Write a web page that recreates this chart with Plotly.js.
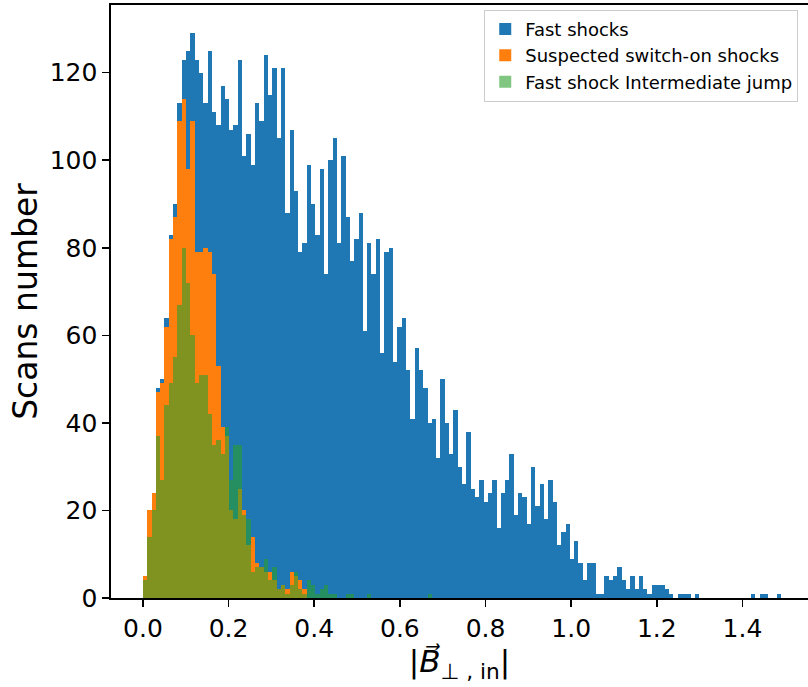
<!DOCTYPE html>
<html>
<head>
<meta charset="utf-8">
<script src="https://cdn.plot.ly/plotly-3.0.1.min.js"></script>
<style>html,body{margin:0;padding:0;background:#fff;}#chart{width:808px;height:687px;}</style>
</head>
<body>
<div id="chart"></div>
<script>
// Histogram bins (shared by all three series)
const BIN_START = 0.0;
const BIN_WIDTH = 0.01007;

// Counts per bin
const fastShocks = [
  5, 20, 24, 48, 50, 64, 83, 90, 113, 123,
  125, 129, 123, 120, 113, 125, 111, 108, 117, 114,
  107, 108, 123, 101, 106, 99, 113, 109, 124, 115,
  121, 105, 121, 88, 107, 93, 79, 81, 99, 90,
  83, 98, 74, 100, 105, 81, 101, 87, 77, 82,
  88, 61, 81, 74, 82, 56, 79, 80, 54, 62,
  64, 52, 41, 57, 52, 48, 40, 41, 32, 50,
  40, 33, 43, 30, 26, 38, 25, 23, 27, 22,
  24, 27, 16, 24, 27, 33, 19, 24, 23, 17,
  30, 21, 26, 18, 27, 22, 12, 15, 17, 9,
  13, 8, 4, 8, 8, 1, 1, 5, 4, 5,
  7, 4, 2, 5, 2, 5, 2, 1, 3, 3,
  3, 2, 1, 0, 1, 1, 1, 0, 1, 0,
  0, 0, 0, 0, 0, 0, 0, 0, 0, 0,
  0, 1, 0, 1, 1, 0, 0, 1
];
const switchOnShocks = [
  5, 20, 24, 47, 49, 62, 82, 87, 109, 114,
  98, 109, 79, 79, 80, 79, 74, 53, 39, 37,
  20, 18, 25, 20, 12, 14, 8, 7, 6, 6,
  4, 2, 3, 2, 6, 5, 4, 2
];
const intermediateJump = [
  4, 14, 20, 37, 27, 44, 49, 55, 67, 80,
  72, 60, 49, 51, 51, 42, 35, 36, 33, 39,
  27, 35, 35, 19, 18, 6, 7, 7, 9, 4,
  7, 2, 3, 1, 3, 6, 2, 1, 4, 3,
  1, 2, 3, 1, 1, 0, 0, 1, 1, 0,
  0, 0, 1, 0, 0, 0, 0, 0, 0, 0,
  0, 0, 0, 0, 0, 0, 1
];
const seriesNames = ["Fast shocks", "Suspected switch-on shocks", "Fast shock Intermediate jump"];
const xTickVals = [0.0, 0.2, 0.4, 0.6, 0.8, 1.0, 1.2, 1.4];
const yTickVals = [0, 20, 40, 60, 80, 100, 120];

function centers(n) {
  const c = [];
  for (let i = 0; i < n; i++) c.push(BIN_START + (i + 0.5) * BIN_WIDTH);
  return c;
}

const colors = ["#1f77b4", "#ff7f0e", "#2ca02c"];
const opac = [1, 1, 0.6];
const data = [fastShocks, switchOnShocks, intermediateJump].map((vals, k) => ({
  type: "bar",
  name: seriesNames[k],
  x: centers(vals.length),
  y: vals,
  width: BIN_WIDTH,
  opacity: opac[k],
  marker: {color: colors[k], line: {width: 0}},
  hoverinfo: "x+y"
}));

const font = "'DejaVu Sans', sans-serif";
const layout = {
  width: 808, height: 687,
  margin: {l: 111, r: 0, t: 5, b: 89, pad: 0},
  paper_bgcolor: "#fff", plot_bgcolor: "#fff",
  barmode: "overlay", bargap: 0,
  font: {family: font, color: "#000"},
  showlegend: true,
  legend: {
    x: 0.986, y: 0.992, xanchor: "right", yanchor: "top",
    bgcolor: "rgba(255,255,255,0.8)", bordercolor: "#cccccc", borderwidth: 1,
    font: {family: font, size: 18, color: "#000"},
    traceorder: "normal", itemwidth: 30
  },
  xaxis: {
    range: [-0.0745, 1.553],
    tickvals: xTickVals, tickformat: ".1f",
    ticks: "outside", ticklen: 7, tickwidth: 1.6, tickcolor: "#000",
    showline: true, linecolor: "#000", linewidth: 1.6, mirror: true,
    showgrid: false, zeroline: false,
    tickfont: {family: font, size: 25, color: "#000"},
    title: {text: "|<i>B\u20D7</i><sub>\u22A5 , in</sub>|", font: {family: font, size: 31, color: "#000"}, standoff: 8}
  },
  yaxis: {
    range: [0, 135.45],
    tickvals: yTickVals,
    ticks: "outside", ticklen: 7, tickwidth: 1.6, tickcolor: "#000",
    showline: true, linecolor: "#000", linewidth: 1.6,
    showgrid: false, zeroline: false,
    tickfont: {family: font, size: 25, color: "#000"},
    title: {text: "Scans number", font: {family: font, size: 33, color: "#000"}, standoff: 2}
  }
};

Plotly.newPlot("chart", data, layout, {displayModeBar: false, staticPlot: true});
</script>
</body>
</html>
